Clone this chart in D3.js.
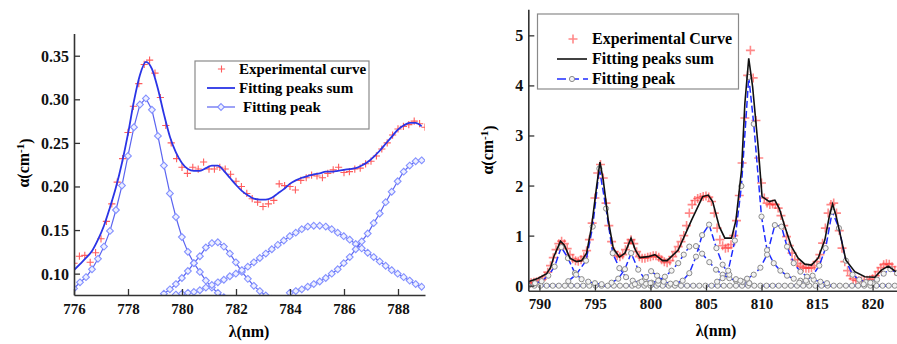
<!DOCTYPE html>
<html>
<head>
<meta charset="utf-8">
<script src="https://cdn.jsdelivr.net/npm/d3@7/dist/d3.min.js"></script>
<style>
  body { margin: 0; background: #fff; }
  svg { display: block; }
  svg text { font-family: "Liberation Serif", "Times New Roman", Times, "DejaVu Serif", serif !important; font-weight: bold; }
</style>
</head>
<body>
<svg id="chart" width="897" height="344"></svg>
<script>
// ---------------- left panel data (776-789 nm) ----------------
// fitted peaks share one wavelength grid (step read from diamond spacing)
var gridStartL = 776, gridStepL = 0.222, gridCountL = 59;

var sumL = [0.104,0.111,0.118,0.126,0.139,0.155,0.176,0.199,0.227,0.260,
            0.298,0.328,0.343,0.335,0.312,0.283,0.257,0.239,0.227,0.220,
            0.218,0.218,0.221,0.224,0.224,0.218,0.210,0.202,0.195,0.190,
            0.186,0.185,0.185,0.187,0.192,0.197,0.203,0.207,0.210,0.212,
            0.214,0.215,0.217,0.217,0.218,0.219,0.220,0.221,0.224,0.228,
            0.234,0.241,0.249,0.257,0.265,0.270,0.273,0.273,0.269];

// each peak: first grid index, then values
var peak1L = { start: 0,  vals: [0.083,0.090,0.096,0.105,0.117,0.131,0.149,0.173,0.201,0.235,
                                  0.268,0.294,0.301,0.288,0.258,0.224,0.192,0.165,0.142,0.125,
                                  0.112,0.102,0.092,0.084,0.078,0.073,0.069,0.066] };
var peak2L = { start: 15, vals: [0.077,0.082,0.088,0.095,0.103,0.112,0.120,0.130,0.135,0.136,
                                  0.131,0.123,0.113,0.102,0.094,0.086,0.080,0.075,0.071] };
var peak3L = { start: 17, vals: [0.076,0.077,0.078,0.079,0.081,0.084,0.087,0.090,0.093,0.097,
                                  0.100,0.104,0.108,0.113,0.118,0.123,0.128,0.133,0.138,0.143,
                                  0.147,0.151,0.154,0.155,0.155,0.154,0.151,0.147,0.143,0.139,
                                  0.134,0.129,0.124,0.119,0.114,0.109,0.104,0.100,0.096,0.092,
                                  0.088,0.085] };
var peak4L = { start: 36, vals: [0.078,0.080,0.082,0.085,0.088,0.091,0.095,0.100,0.105,0.112,
                                  0.119,0.128,0.137,0.146,0.158,0.169,0.182,0.194,0.206,0.217,
                                  0.224,0.229,0.230] };

// experimental points, 0.2 nm apart from 776
var expStartL = 776, expStepL = 0.2;
var expL = [0.112,0.120,0.121,0.113,0.124,0.140,0.160,0.180,0.205,0.232,
            0.262,0.292,0.318,0.340,0.345,0.330,0.302,0.270,0.250,0.232,
            0.222,0.215,0.222,0.220,0.228,0.220,0.220,0.222,0.220,0.214,
            0.206,0.200,0.192,0.186,0.182,0.177,0.180,0.184,0.203,0.201,
            0.200,0.196,0.207,0.210,0.213,0.212,0.210,0.215,0.219,0.222,
            0.216,0.217,0.220,0.221,0.226,0.229,0.235,0.243,0.250,0.259,
            0.266,0.269,0.271,0.275,0.272,0.268];

var xTicksL = [776, 778, 780, 782, 784, 786, 788];
var xMinorL = [777, 779, 781, 783, 785, 787, 789];
var yTicksL = [0.10, 0.15, 0.20, 0.25, 0.30, 0.35];
var yMinorL = [0.125, 0.175, 0.225, 0.275, 0.325, 0.375];

// ---------------- right panel data (789-822 nm) ----------------
var expStartR = 789, expStepR = 0.25;
var expR = [0.05,0.06,0.07,0.08, 0.10,0.13,0.18,0.27, 0.40,0.56,0.72,0.84,
            0.89,0.84,0.74,0.62, 0.54,0.50,0.49,0.52, 0.58,0.70,0.92,1.25,
            1.75,2.25,2.42,2.15, 1.65,1.20,0.88,0.68, 0.60,0.58,0.62,0.72,
            0.85,0.92,0.84,0.68, 0.58,0.55,0.55,0.57, 0.58,0.60,0.60,0.57,
            0.52,0.48,0.46,0.50, 0.58,0.68,0.78,0.88, 1.00,1.20,1.45,1.62,
            1.70,1.74,1.76,1.78, 1.79,1.77,1.68,1.45, 1.15,0.92,0.80,0.75,
            0.76,0.82,1.00,1.30, 1.80,2.45,3.35,4.20, 4.70,4.15,3.30,2.55,
            2.05,1.75,1.65,1.62, 1.63,1.62,1.55,1.40, 1.20,0.98,0.80,0.65,
            0.52,0.44,0.39,0.36, 0.35,0.35,0.36,0.40, 0.48,0.62,0.85,1.15,
            1.45,1.62,1.65,1.45, 1.10,0.75,0.48,0.30, 0.20,0.14,0.11,0.10,
            0.10,0.10,0.11,0.12, 0.14,0.20,0.28,0.36, 0.42,0.44,0.43,0.38,
            0.30];

var sumR = [[789.0,0.08],[789.9,0.15],[790.65,0.24],[791.0,0.36],[791.3,0.58],[791.9,0.89],
            [792.25,0.81],[792.75,0.55],[793.35,0.48],[793.8,0.50],[794.25,0.65],[794.7,1.18],
            [795.15,1.98],[795.45,2.47],[795.75,2.11],[796.2,1.31],[796.65,0.75],[797.2,0.57],
            [797.7,0.65],[798.25,0.95],[798.65,0.71],[799.05,0.56],[799.8,0.58],[800.4,0.62],
            [801.1,0.50],[801.5,0.50],[802.5,0.71],[803.7,1.31],[804.7,1.78],[805.2,1.81],
            [805.6,1.68],[806.2,1.18],[806.7,0.95],[807.3,0.95],[807.7,1.31],[808.2,2.31],
            [808.5,3.64],[808.85,4.54],[809.2,3.97],[809.7,2.77],[810.05,1.78],[810.7,1.68],
            [811.2,1.71],[811.6,1.54],[812.1,1.18],[812.7,0.78],[813.3,0.55],[813.9,0.43],
            [814.5,0.41],[815.1,0.55],[815.7,0.91],[816.1,1.38],[816.4,1.63],[816.7,1.41],
            [817.2,0.91],[817.6,0.51],[818.4,0.28],[819.3,0.18],[820.2,0.17],[820.8,0.31],
            [821.4,0.39],[822.1,0.28]];

var peakAR = [[789.6,0.05],[790.2,0.09],[790.8,0.20],[791.37,0.38],[791.97,0.77],[792.57,0.55],
              [793.2,0.25],[793.8,0.13],[794.4,0.08],[795.0,0.05],[795.6,0.03]];
var peakBR = [[792.6,0.09],[793.3,0.22],[794.2,0.50],[794.8,1.18],[795.4,2.34],[796.0,1.54],
              [796.6,0.65],[797.2,0.35],[797.8,0.17],[798.4,0.10],[799.0,0.06],[799.6,0.04]];
var peakCR = [[796.5,0.06],[797.1,0.14],[797.7,0.33],[798.26,0.65],[798.9,0.32],[799.5,0.13],
              [800.1,0.06],[800.7,0.04]];
var peakDR = [[798.6,0.03],[799.2,0.08],[799.6,0.17],[800.06,0.29],[800.6,0.20],[801.2,0.08],
              [801.8,0.04]];
var peakER = [[800.0,0.05],[800.7,0.10],[801.3,0.18],[801.9,0.30],[802.5,0.45],[803.0,0.62],
              [803.5,0.78],[804.1,0.79],[804.65,0.64],[805.3,0.47],[805.9,0.32],[806.5,0.22],
              [807.1,0.15],[807.7,0.10],[808.3,0.07],[808.9,0.05]];
var peakFR = [[802.3,0.05],[802.9,0.10],[803.5,0.25],[804.1,0.58],[804.65,1.01],[805.28,1.22],
              [805.94,0.75],[806.5,0.42],[807.1,0.22],[807.7,0.13],[808.3,0.08],[808.9,0.05]];
var peakGR = [[806.0,0.08],[806.5,0.15],[807.0,0.30],[807.6,0.90],[808.19,1.99],[808.85,4.17],
              [809.3,3.23],[810.0,1.38],[810.5,0.71],[811.1,0.45],[811.7,0.30],[812.3,0.20],
              [812.9,0.14],[813.5,0.10],[814.1,0.07]];
var peakHR = [[808.1,0.10],[808.7,0.14],[809.3,0.22],[809.9,0.36],[810.5,0.62],[811.2,1.21],
              [811.8,1.18],[812.3,0.78],[812.9,0.45],[813.5,0.28],[814.1,0.18],[814.7,0.12],
              [815.3,0.08],[815.9,0.05]];
var peakIR = [[813.4,0.06],[814.0,0.10],[814.6,0.20],[815.2,0.40],[815.77,0.75],[816.37,1.48],
              [816.97,1.15],[817.6,0.50],[818.2,0.22],[818.8,0.12],[819.4,0.07],[820.0,0.05]];
var peakJR = [[819.2,0.03],[819.8,0.06],[820.4,0.12],[821.0,0.24],[821.6,0.33],[822.2,0.25]];

// overlapping zero tails of all fitted peaks, one marker every 0.55 nm
var baseStartR = 789, baseStepR = 0.55;
var baseR = [0,0,0,0,0,0,0,0,0,0, 0,0,0,0,0,0,0,0,0,0, 0,0,0,0,0,0,0,0,0,0,
             0,0,0,0,0,0,0,0,0,0, 0,0,0,0,0,0,0,0,0,0, 0,0,0,0,0,0,0,0,0,0, 0];

var xTicksR = [790, 795, 800, 805, 810, 815, 820];
var xMinorR = [792.5, 797.5, 802.5, 807.5, 812.5, 817.5];
var yTicksR = [0, 1, 2, 3, 4, 5];
var yMinorR = [0.5, 1.5, 2.5, 3.5, 4.5, 5.5];

// ---------------- drawing ----------------
var FONT = '"Liberation Serif", "Times New Roman", Times, "DejaVu Serif", serif';
var svg = d3.select('#chart');
var defs = svg.append('defs');

function plusPath(s) { return 'M' + (-s) + ',0H' + s + 'M0,' + (-s) + 'V' + s; }
function diamondPath(s) { return 'M0,' + (-s) + 'L' + s + ',0L0,' + s + 'L' + (-s) + ',0Z'; }

function drawAxes(g, x, y, opt) {
    var xr = x.range(), yr = y.range();
    var xAxis = d3.axisBottom(x).tickValues(opt.xTicks).tickSizeInner(-6).tickSizeOuter(0)
        .tickPadding(8).tickFormat(d3.format('d'));
    var xMinor = d3.axisBottom(x).tickValues(opt.xMinor).tickSizeInner(-3).tickSizeOuter(0).tickFormat('');
    var yAxis = d3.axisLeft(y).tickValues(opt.yTicks).tickSizeInner(-6).tickSizeOuter(0)
        .tickPadding(5).tickFormat(opt.yFormat);
    var yMinor = d3.axisLeft(y).tickValues(opt.yMinor).tickSizeInner(-3).tickSizeOuter(0).tickFormat('');

    var gx = g.append('g').attr('transform', 'translate(0,' + yr[0] + ')');
    gx.call(xMinor);
    gx.call(xAxis);
    var gy = g.append('g').attr('transform', 'translate(' + xr[0] + ',0)');
    gy.call(yMinor);
    gy.call(yAxis);

    [gx, gy].forEach(function(a) {
        a.attr('font-family', FONT);
        a.selectAll('path.domain').attr('stroke', '#333').attr('stroke-width', 1.6);
        a.selectAll('.tick line').attr('stroke', '#333').attr('stroke-width', 1.3);
        a.selectAll('.tick text').attr('fill', '#111');
    });
    gx.attr('font-size', opt.xFont);
    gy.attr('font-size', opt.yFont);
    gy.selectAll('.tick text').attr('dy', '0.34em');

    g.append('text').attr('x', opt.xLabelPos[0]).attr('y', opt.xLabelPos[1])
        .attr('text-anchor', 'middle').attr('font-size', 16).text('λ(nm)');

    var yl = g.append('text')
        .attr('transform', 'translate(' + opt.yLabelPos[0] + ',' + opt.yLabelPos[1] + ') rotate(-90)')
        .attr('text-anchor', 'middle').attr('dy', '0.35em').attr('font-size', 16);
    yl.append('tspan').text('α(cm');
    yl.append('tspan').attr('dy', '-0.45em').attr('font-size', 11).text('-1');
    yl.append('tspan').attr('dy', '0.45em').text(')');
}

// ===== left panel =====
(function() {
    var x = d3.scaleLinear().domain([776, 789]).range([74, 425]);
    var y = d3.scaleLinear().domain([0.0755, 0.3755]).range([295, 33.5]);
    var g = svg.append('g');

    defs.append('clipPath').attr('id', 'clipL').append('rect')
        .attr('x', 74).attr('y', 33).attr('width', 351).attr('height', 262);

    var plot = g.append('g').attr('clip-path', 'url(#clipL)');
    var lineLinear = d3.line().x(function(d) { return x(d[0]); }).y(function(d) { return y(d[1]); });

    [peak1L, peak2L, peak3L, peak4L].forEach(function(p) {
        var pts = p.vals.map(function(v, i) { return [gridStartL + (p.start + i) * gridStepL, v]; });
        plot.append('path').datum(pts).attr('d', lineLinear)
            .attr('fill', 'none').attr('stroke', '#5b64f0').attr('stroke-width', 1.2);
        plot.selectAll(null).data(pts).join('path')
            .attr('transform', function(d) { return 'translate(' + x(d[0]) + ',' + y(d[1]) + ')'; })
            .attr('d', diamondPath(3.4))
            .attr('fill', '#eef0ff').attr('stroke', '#8390ff').attr('stroke-width', 1.1);
    });

    var expPts = expL.map(function(v, i) { return [expStartL + i * expStepL, v]; });
    plot.selectAll(null).data(expPts).join('path')
        .attr('transform', function(d) { return 'translate(' + x(d[0]) + ',' + y(d[1]) + ')'; })
        .attr('d', plusPath(3.6))
        .attr('stroke', '#ff5c5c').attr('stroke-width', 1.1).attr('fill', 'none');

    var sumPts = sumL.map(function(v, i) { return [gridStartL + i * gridStepL, v]; });
    plot.append('path').datum(sumPts)
        .attr('d', d3.line().curve(d3.curveMonotoneX)
            .x(function(d) { return x(d[0]); }).y(function(d) { return y(d[1]); }))
        .attr('fill', 'none').attr('stroke', '#2a34e6').attr('stroke-width', 1.8);

    drawAxes(g, x, y, {
        xTicks: xTicksL, xMinor: xMinorL, yTicks: yTicksL, yMinor: yMinorL,
        yFormat: d3.format('.2f'), xFont: 15, yFont: 16,
        xLabelPos: [249, 337], yLabelPos: [23, 163]
    });

    // legend
    var lg = g.append('g');
    lg.append('rect').attr('x', 195).attr('y', 61).attr('width', 174).attr('height', 68)
        .attr('fill', '#fff').attr('stroke', '#8a8a8a').attr('stroke-width', 1.2);
    lg.append('path').attr('transform', 'translate(221.5,69)').attr('d', plusPath(3.6))
        .attr('stroke', '#ff5c5c').attr('stroke-width', 1.1);
    lg.append('line').attr('x1', 207).attr('x2', 235).attr('y1', 88).attr('y2', 88)
        .attr('stroke', '#2a34e6').attr('stroke-width', 1.8);
    lg.append('line').attr('x1', 207).attr('x2', 235).attr('y1', 107).attr('y2', 107)
        .attr('stroke', '#5b64f0').attr('stroke-width', 1.2);
    lg.append('path').attr('transform', 'translate(221,107)').attr('d', diamondPath(3.4))
        .attr('fill', '#eef0ff').attr('stroke', '#8390ff').attr('stroke-width', 1.1);
    [['Experimental curve', 239, 74], ['Fitting peaks sum', 239, 93], ['Fitting peak', 243, 112]]
        .forEach(function(t) {
            lg.append('text').attr('x', t[1]).attr('y', t[2]).attr('font-size', 15).text(t[0]);
        });
})();

// ===== right panel =====
(function() {
    var x = d3.scaleLinear().domain([789, 822.2]).range([528.3, 897]);
    var y = d3.scaleLinear().domain([-0.1, 5.52]).range([290.7, 9.3]);
    var g = svg.append('g');

    defs.append('clipPath').attr('id', 'clipR').append('rect')
        .attr('x', 528.3).attr('y', 9).attr('width', 369).attr('height', 282);

    var plot = g.append('g').attr('clip-path', 'url(#clipR)');
    var lineLinear = d3.line().x(function(d) { return x(d[0]); }).y(function(d) { return y(d[1]); });

    var expPts = expR.map(function(v, i) { return [expStartR + i * expStepR, v]; });
    plot.selectAll(null).data(expPts).join('path')
        .attr('transform', function(d) { return 'translate(' + x(d[0]) + ',' + y(d[1]) + ')'; })
        .attr('d', plusPath(4.5))
        .attr('stroke', 'rgba(255,40,40,0.55)').attr('stroke-width', 1.6).attr('fill', 'none');

    var basePts = baseR.map(function(v, i) { return [baseStartR + i * baseStepR, v]; });
    var peaks = [basePts, peakAR, peakBR, peakCR, peakDR, peakER, peakFR, peakGR, peakHR, peakIR, peakJR];
    peaks.forEach(function(pts, k) {
        plot.append('path').datum(pts).attr('d', lineLinear)
            .attr('fill', 'none').attr('stroke', '#1f2cff')
            .attr('stroke-width', k === 0 ? 2.6 : 1.5)
            .attr('stroke-dasharray', k === 0 ? '3,2' : '7,3');
    });
    peaks.forEach(function(pts) {
        plot.selectAll(null).data(pts).join('circle')
            .attr('cx', function(d) { return x(d[0]); }).attr('cy', function(d) { return y(d[1]); })
            .attr('r', 2.6).attr('fill', '#f4f4f4').attr('stroke', '#8c8c8c').attr('stroke-width', 1);
    });

    plot.append('path').datum(sumR).attr('d', lineLinear)
        .attr('fill', 'none').attr('stroke', '#111').attr('stroke-width', 1.6);

    drawAxes(g, x, y, {
        xTicks: xTicksR, xMinor: xMinorR, yTicks: yTicksR, yMinor: yMinorR,
        yFormat: d3.format('d'), xFont: 15, yFont: 16,
        xLabelPos: [716, 336], yLabelPos: [487, 150]
    });

    var lg = g.append('g');
    lg.append('rect').attr('x', 537.5).attr('y', 14).attr('width', 201).attr('height', 75)
        .attr('fill', '#fff').attr('stroke', '#8a8a8a').attr('stroke-width', 1.2);
    lg.append('path').attr('transform', 'translate(573,39)').attr('d', plusPath(4.5))
        .attr('stroke', 'rgba(255,40,40,0.55)').attr('stroke-width', 1.6);
    lg.append('line').attr('x1', 557).attr('x2', 587).attr('y1', 59).attr('y2', 59)
        .attr('stroke', '#111').attr('stroke-width', 1.6);
    lg.append('line').attr('x1', 557).attr('x2', 588).attr('y1', 79).attr('y2', 79)
        .attr('stroke', '#1f2cff').attr('stroke-width', 1.5).attr('stroke-dasharray', '9,4');
    lg.append('circle').attr('cx', 572).attr('cy', 79).attr('r', 2.6)
        .attr('fill', '#f4f4f4').attr('stroke', '#8c8c8c');
    [['Experimental Curve', 44], ['Fitting peaks sum', 64], ['Fitting peak', 84]].forEach(function(t) {
        lg.append('text').attr('x', 592).attr('y', t[1]).attr('font-size', 16).text(t[0]);
    });
})();
</script>
</body>
</html>
